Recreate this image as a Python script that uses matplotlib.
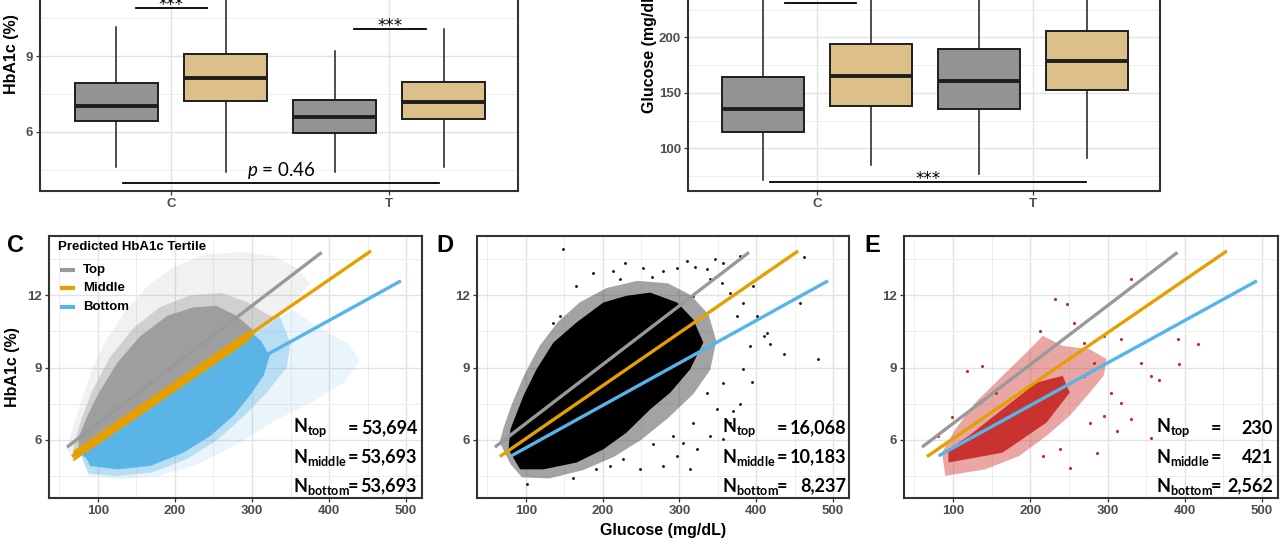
import numpy as np
import matplotlib
matplotlib.use('Agg')
import matplotlib.pyplot as plt

plt.rcParams['font.family'] = ['Liberation Sans', 'DejaVu Sans']
plt.rcParams['mathtext.fontset'] = 'custom'
plt.rcParams['mathtext.rm'] = 'Lato'
plt.rcParams['mathtext.it'] = 'Lato:italic'
plt.rcParams['mathtext.bf'] = 'Lato:bold'

W, H = 1280, 544

# ---------------- data: box plots (whislo, q1, median, q3, whishi) ----------------
groups = ['C', 'T']
hba1c_grey = [[4.62, 6.43, 7.02, 7.93, 10.15], [4.42, 5.96, 6.60, 7.26, 9.20]]
hba1c_tan = [[4.42, 7.22, 8.13, 9.08, 12.6], [4.60, 6.51, 7.19, 7.97, 10.07]]
glucose_grey = [[71.5, 114.7, 135.0, 164.0, 290], [76.6, 135.4, 160.4, 189.7, 290]]
glucose_tan = [[85.3, 138.0, 164.9, 193.7, 290], [91.0, 152.8, 178.9, 205.7, 300]]

# significance brackets: (x0, x1, y, label)
hba1c_sig = [(0.84, 1.165, 10.9, '***'), (1.84, 2.17, 10.07, '***')]
hba1c_overall = (0.78, 2.23, 3.98, 4.08)
glucose_sig = [(0.85, 1.18, 231.0, '***')]
glucose_overall = (0.78, 2.245, 69.6, '***')

# ---------------- data: regression lines per tertile (glucose, HbA1c) ----------------
tertiles = ['Top', 'Middle', 'Bottom']
line_x = {'Top': [59.8, 390.5], 'Middle': [66.3, 454.5], 'Bottom': [81.3, 493.4]}
line_y = {'Top': [5.70, 13.78], 'Middle': [5.31, 13.84], 'Bottom': [5.34, 12.60]}
line_col = {'Top': '#999999', 'Middle': '#E69F00', 'Bottom': '#56B4E9'}

# ---------------- data: point cloud outlines ----------------
# panel C
c_grey_sparse_x = [60, 68, 78, 92, 110, 135, 165, 200, 240, 290, 330, 360, 375, 352, 66]
c_grey_sparse_y = [5.6, 6.6, 7.6, 8.9, 10.1, 11.3, 12.4, 13.2, 13.7, 13.8, 13.6, 13.1, 12.5, 11.6, 5.3]
c_grey_mid_x = [68, 78, 92, 115, 145, 180, 220, 260, 295, 320, 330, 68]
c_grey_mid_y = [5.7, 6.8, 8.0, 9.4, 10.6, 11.5, 12.0, 12.1, 11.7, 11.2, 11.1, 5.35]
c_grey_dense_x = [75, 85, 99, 125, 155, 190, 224, 254, 280, 300, 300, 75]
c_grey_dense_y = [6.1, 6.9, 7.83, 9.2, 10.3, 11.15, 11.5, 11.56, 11.15, 10.6, 10.44, 5.50]
c_blue_sparse_x = [80, 88, 130, 180, 230, 280, 330, 380, 420, 440, 425, 390, 352, 80]
c_blue_sparse_y = [5.2, 4.5, 4.35, 4.5, 5.0, 5.8, 6.8, 7.6, 8.4, 9.3, 10.0, 10.6, 11.4, 5.6]
c_blue_mid_x = [80, 88, 125, 170, 215, 255, 290, 320, 345, 350, 335, 78]
c_blue_mid_y = [5.2, 4.6, 4.5, 4.65, 5.2, 6.0, 7.0, 8.0, 9.0, 10.0, 11.2, 5.57]
c_blue_dense_x = [81, 90, 125, 168, 211, 246, 276, 297, 315, 323, 312, 300, 78]
c_blue_dense_y = [5.47, 4.92, 4.78, 4.92, 5.47, 6.17, 7.0, 7.83, 8.66, 9.49, 10.1, 10.44, 5.57]
c_mid_band_x = [68, 292, 308, 292, 68]
c_mid_band_y = [5.10, 10.02, 10.55, 10.46, 5.54]

# panel D
d_sparse_x = [66, 80, 95, 130, 175, 215, 250, 285, 318, 340, 348, 338, 315, 285, 245, 205, 170, 142, 118, 98, 82, 71]
d_sparse_y = [5.9, 5.0, 4.45, 4.4, 4.75, 5.3, 6.0, 6.9, 7.9, 8.9, 10.1, 11.2, 12.0, 12.5, 12.6, 12.3, 11.7, 10.9, 9.9, 8.7, 7.5, 6.5]
d_dense_x = [77.5, 92.6, 123, 166, 201, 231, 262, 288, 314, 331, 318, 297, 262, 231, 201, 166, 136, 114, 97, 80]
d_dense_y = [5.61, 4.78, 4.78, 5.06, 5.61, 6.30, 7.27, 7.96, 8.93, 10.04, 11.0, 11.7, 12.11, 11.98, 11.7, 10.87, 10.04, 8.93, 7.83, 6.44]
d_out_x = [149, 229, 188, 223, 253, 264, 279, 297, 310, 320, 336, 346, 357, 379, 355, 366, 383, 396, 410,
           418, 436, 481, 457, 462, 394, 379, 370, 366, 357, 340, 323, 314, 297, 279, 266, 249, 227, 162,
           101, 145, 136, 166, 214, 392, 414, 318, 340, 375, 401, 383, 357, 336, 349, 318, 292, 305, 210, 192]
d_out_y = [13.94, 13.36, 12.94, 12.67, 13.15, 12.74, 13.01, 13.15, 13.43, 13.19, 13.08, 13.5, 13.36, 13.63,
           12.53, 12.11, 11.70, 12.39, 10.32, 9.97, 9.55, 9.37, 11.70, 13.57, 8.41, 7.48, 7.20, 6.72, 6.03,
           6.17, 5.61, 4.78, 5.34, 4.92, 5.82, 4.78, 5.20, 4.44, 4.16, 11.15, 10.87, 12.39, 13.01, 9.90,
           10.45, 11.98, 12.67, 11.15, 11.15, 8.93, 8.38, 7.96, 7.27, 6.72, 6.17, 5.89, 4.92, 4.78]

# panel E
e_sparse_x = [85.6, 90, 142, 186, 221, 251, 277, 295, 299, 277, 242, 216, 195, 164, 129, 103]
e_sparse_y = [5.47, 4.51, 4.78, 5.34, 6.17, 7.0, 7.96, 8.66, 9.35, 9.76, 9.90, 10.32, 9.62, 8.66, 7.55, 6.44]
e_dense_x = [94, 164, 221, 251, 242, 208, 164, 120.5, 94]
e_dense_y = [5.06, 5.47, 6.72, 7.96, 8.66, 8.38, 7.27, 6.17, 5.61]
e_out_x = [232, 247, 330, 417, 391, 393, 212, 118, 99, 356, 367, 343, 330, 312, 356, 286, 251, 216, 238,
           295, 317, 304, 277, 269, 282, 269, 317, 295, 256, 138, 155, 81]
e_out_y = [11.84, 11.63, 12.69, 9.97, 10.18, 9.17, 10.52, 8.86, 6.93, 8.66, 8.49, 9.21, 6.86, 6.37, 6.10,
           5.47, 4.85, 5.34, 5.61, 7.0, 7.55, 7.96, 6.72, 8.66, 9.21, 10.04, 10.18, 10.32, 10.87, 9.07,
           7.96, 6.17]

n_labels = ['top', 'middle', 'bottom']
n_c = ['53,694', '53,693', '53,693']
n_d = ['16,068', '10,183', '8,237']
n_e = ['230', '421', '2,562']

GREY_BOX = '#939393'
TAN_BOX = '#DDBF8A'
EDGE = '#1e1e1e'
TICK_COL = '#4D4D4D'

fig = plt.figure(figsize=(W / 100, H / 100), dpi=100)
fig.patch.set_facecolor('white')


def px_axes(left, right, top, bottom):
    return fig.add_axes([left / W, 1 - bottom / H, (right - left) / W, (bottom - top) / H])


def style(ax):
    for s in ax.spines.values():
        s.set_color('#333333')
        s.set_linewidth(1.5)
    ax.grid(which='major', color='#E2E2E2', lw=1.0)
    ax.grid(which='minor', color='#EEEEEE', lw=0.7)
    ax.set_axisbelow(True)
    ax.tick_params(which='major', length=3, width=0.9, color='#333333', labelsize=9.5,
                   labelcolor=TICK_COL, pad=2)
    ax.tick_params(which='minor', length=0)
    for lab in ax.get_xticklabels() + ax.get_yticklabels():
        lab.set_fontweight('bold')


def stars(ax, x, y, lab):
    ax.annotate(lab, xy=(x, y), xytext=(0, -1.2), textcoords='offset points', ha='center',
                va='baseline', fontsize=12, family='DejaVu Sans')


def box_panel(ax, grey, tan, ylim, major, minor):
    pos = np.arange(1, len(groups) + 1)
    for stats, off, col in [(grey, -0.25, GREY_BOX), (tan, 0.25, TAN_BOX)]:
        bstats = [dict(whislo=s[0], q1=s[1], med=s[2], q3=s[3], whishi=s[4]) for s in stats]
        ax.bxp(bstats, positions=pos + off, widths=0.38, patch_artist=True, showcaps=False,
               showfliers=False,
               boxprops=dict(facecolor=col, edgecolor=EDGE, lw=1.4),
               medianprops=dict(color=EDGE, lw=2.8),
               whiskerprops=dict(color=EDGE, lw=1.1))
    ax.set_xlim(0.40, 2.59)
    ax.set_ylim(*ylim)
    ax.set_xticks(pos)
    ax.set_xticklabels(groups)
    ax.set_yticks(major)
    ax.set_yticks(minor, minor=True)
    style(ax)


# ---------------- top left: HbA1c boxes ----------------
ax1 = px_axes(40, 518, -83, 191)
box_panel(ax1, hba1c_grey, hba1c_tan, (3.67, 14.49), [6, 9, 12], [4.5, 7.5, 10.5, 13.5])
for x0, x1, y, lab in hba1c_sig:
    ax1.plot([x0, x1], [y, y], color='black', lw=1.3)
    stars(ax1, (x0 + x1) / 2, y, lab)
x0, x1, y, ty = hba1c_overall
ax1.plot([x0, x1], [y, y], color='black', lw=1.3)
ax1.text((x0 + x1) / 2, ty, r'$p$ = 0.46', ha='center', va='bottom', fontsize=13.5, family='Lato')
ax1.set_ylabel('HbA1c (%)', fontsize=11.5, fontweight='bold')
ax1.yaxis.set_label_coords(-0.044, 0.5)

# ---------------- top right: glucose boxes ----------------
ax2 = px_axes(688, 1160, -91, 191)
box_panel(ax2, glucose_grey, glucose_tan, (61.5, 315.6), [100, 150, 200, 250, 300],
          [75, 125, 175, 225, 275])
for x0, x1, y, lab in glucose_sig:
    ax2.plot([x0, x1], [y, y], color='black', lw=1.3)
    stars(ax2, (x0 + x1) / 2, y, lab)
x0, x1, y, lab = glucose_overall
ax2.plot([x0, x1], [y, y], color='black', lw=1.3)
stars(ax2, (x0 + x1) / 2, y, lab)
ax2.set_ylabel('Glucose (mg/dL)', fontsize=11.5, fontweight='bold')
ax2.yaxis.set_label_coords(-0.066, 0.5)


# ---------------- bottom scatter panels ----------------
def scatter_panel(ax):
    ax.set_xlim(36.5, 520.7)
    ax.set_ylim(3.59, 14.46)
    ax.set_xticks([100, 200, 300, 400, 500])
    ax.set_xticks([50, 150, 250, 350, 450], minor=True)
    ax.set_yticks([6, 9, 12])
    ax.set_yticks([4.5, 7.5, 10.5, 13.5], minor=True)
    style(ax)


def draw_lines(ax):
    for k in tertiles:
        ax.plot(line_x[k], line_y[k], color=line_col[k], lw=2.4, solid_capstyle='butt', zorder=5)


def n_text(ax, counts, xn, xeq, xnum):
    for lab, cnt, yy in zip(n_labels, counts, [0.267, 0.156, 0.045]):
        ax.text(xn, yy, r'$\mathbf{N_{%s}}$' % lab, transform=ax.transAxes, fontsize=13,
                ha='left', va='center', zorder=6)
        ax.text(xeq, yy, '=', transform=ax.transAxes, fontsize=13, family='Lato',
                fontweight='bold', ha='center', va='center', zorder=6)
        ax.text(xnum, yy, cnt, transform=ax.transAxes, fontsize=13, family='Lato',
                fontweight='bold', ha='right', va='center', zorder=6)


# C
axc = px_axes(49, 422, 236, 498)
scatter_panel(axc)
axc.fill(c_grey_sparse_x, c_grey_sparse_y, color='#A0A0A0', alpha=0.14, lw=0)
axc.fill(c_blue_sparse_x, c_blue_sparse_y, color='#5AB4E5', alpha=0.12, lw=0)
axc.fill(c_grey_mid_x, c_grey_mid_y, color='#A0A0A0', alpha=0.4, lw=0)
axc.fill(c_blue_mid_x, c_blue_mid_y, color='#5AB4E5', alpha=0.35, lw=0)
axc.fill(c_grey_dense_x, c_grey_dense_y, color='#9E9E9E', lw=0)
axc.fill(c_blue_dense_x, c_blue_dense_y, color='#5BB4E6', lw=0)
axc.fill(c_mid_band_x, c_mid_band_y, color='#E8A000', lw=0, zorder=4)
draw_lines(axc)
n_text(axc, n_c, 0.654, 0.815, 0.987)
axc.set_ylabel('HbA1c (%)', fontsize=11.5, fontweight='bold')
axc.yaxis.set_label_coords(-0.078, 0.5)

# legend drawn by hand in axes coordinates
axc.text(0.024, 0.958, 'Predicted HbA1c Tertile', transform=axc.transAxes, fontsize=9.5,
         fontweight='bold', ha='left', va='center', zorder=7)
for k, yy in zip(tertiles, [0.870, 0.802, 0.729]):
    axc.plot([0.03, 0.07], [yy, yy], transform=axc.transAxes, color=line_col[k], lw=3,
             solid_capstyle='butt', zorder=7)
    axc.text(0.091, yy, k, transform=axc.transAxes, fontsize=9.5, fontweight='bold',
             ha='left', va='center', zorder=7)

# D
axd = px_axes(477, 849, 236, 498)
scatter_panel(axd)
axd.fill(d_sparse_x, d_sparse_y, color='#1a1a1a', alpha=0.4, lw=0)
axd.fill(d_dense_x, d_dense_y, color='black', lw=0)
axd.scatter(d_out_x, d_out_y, s=4, color='black', lw=0)
draw_lines(axd)
n_text(axd, n_d, 0.658, 0.82, 0.992)
axd.set_xlabel('Glucose (mg/dL)', fontsize=11.5, fontweight='bold')
axd.xaxis.set_label_coords(0.5, -0.095)

# E
axe = px_axes(904, 1278, 236, 498)
scatter_panel(axe)
axe.fill(e_sparse_x, e_sparse_y, color='#D23A36', alpha=0.45, lw=0)
axe.fill(e_dense_x, e_dense_y, color='#C41E1A', alpha=0.85, lw=0)
axe.scatter(e_out_x, e_out_y, s=5, color='#C62A26', lw=0)
draw_lines(axe)
n_text(axe, n_e, 0.673, 0.835, 0.987)

# panel letters
for lab, xp in [('C', 15), ('D', 445), ('E', 872)]:
    fig.text(xp / W, 1 - 245 / H, lab, fontsize=17, fontweight='bold', ha='center', va='center')

fig.savefig('out.png', dpi=100, facecolor='white')
